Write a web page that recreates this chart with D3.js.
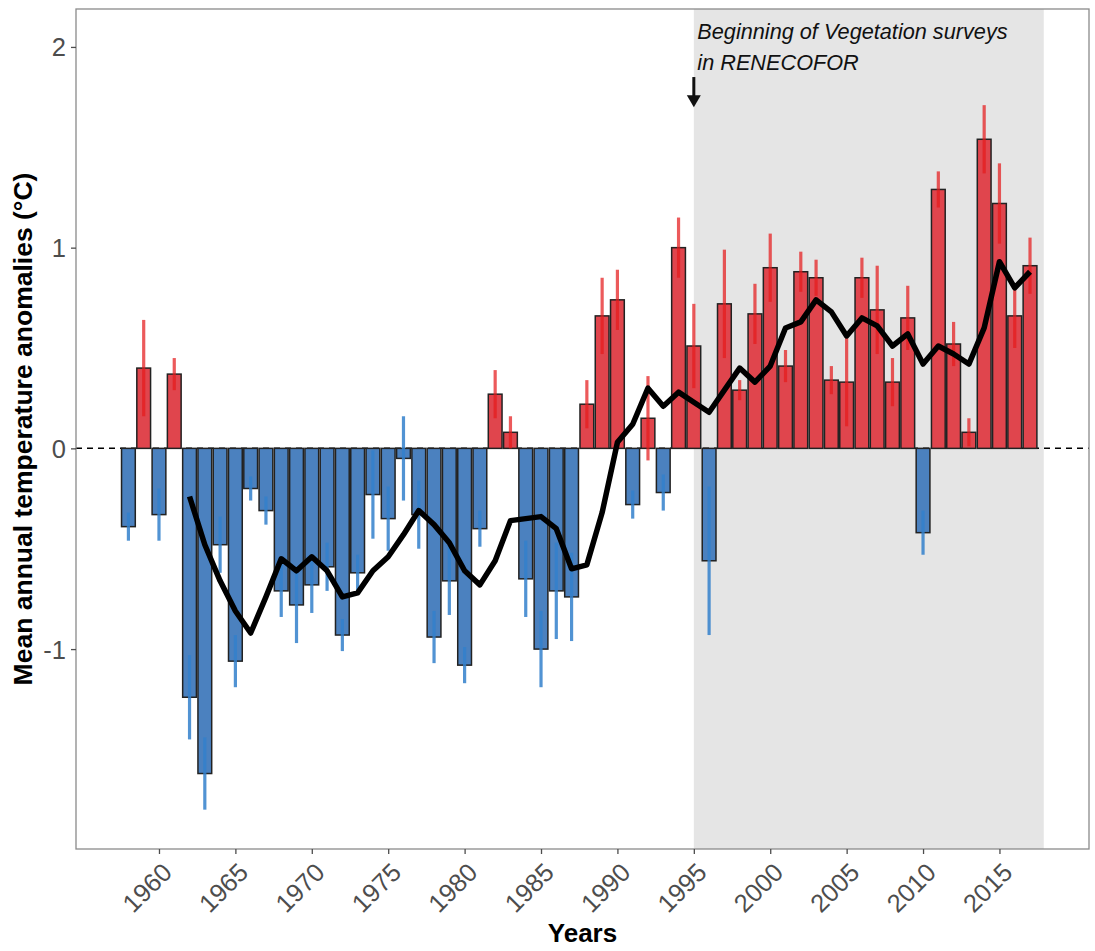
<!DOCTYPE html>
<html>
<head>
<meta charset="utf-8">
<script src="https://cdn.jsdelivr.net/npm/d3@7"></script>
<style>
  html, body { margin: 0; padding: 0; background: #ffffff; }
  svg { display: block; font-family: "Liberation Sans", Arial, Helvetica, sans-serif; }
</style>
</head>
<body>
<svg id="chart" width="1095" height="951"></svg>
<script>
// Annual mean temperature anomalies (°C), 1958–2017
const years = d3.range(1958, 2018);
const anomaly = [
  -0.39, 0.40, -0.33, 0.37, -1.24, -1.62, -0.48, -1.06, -0.20, -0.31,
  -0.71, -0.78, -0.68, -0.59, -0.93, -0.62, -0.23, -0.35, -0.05, -0.33,
  -0.94, -0.66, -1.08, -0.40, 0.27, 0.08, -0.65, -1.00, -0.71, -0.74,
  0.22, 0.66, 0.74, -0.28, 0.15, -0.22, 1.00, 0.51, -0.56, 0.72,
  0.29, 0.67, 0.90, 0.41, 0.88, 0.85, 0.34, 0.33, 0.85, 0.69,
  0.33, 0.65, -0.42, 1.29, 0.52, 0.08, 1.54, 1.22, 0.66, 0.91
];
// spread around each annual mean
const anomalySd = [
  0.07, 0.24, 0.13, 0.08, 0.21, 0.18, 0.14, 0.13, 0.06, 0.07,
  0.13, 0.19, 0.14, 0.12, 0.08, 0.09, 0.22, 0.16, 0.21, 0.17,
  0.13, 0.17, 0.09, 0.09, 0.12, 0.08, 0.19, 0.19, 0.24, 0.22,
  0.12, 0.19, 0.15, 0.07, 0.21, 0.09, 0.15, 0.21, 0.37, 0.27,
  0.05, 0.15, 0.17, 0.08, 0.10, 0.09, 0.07, 0.22, 0.10, 0.22,
  0.12, 0.16, 0.11, 0.09, 0.11, 0.07, 0.17, 0.20, 0.16, 0.14
];
// 5-year running mean of the anomalies
const smoothYears = d3.range(1962, 2018);
const smoothAnomaly = [
  -0.24, -0.48, -0.66, -0.81, -0.92, -0.74, -0.55, -0.61, -0.54, -0.61,
  -0.74, -0.72, -0.61, -0.54, -0.43, -0.31, -0.38, -0.47, -0.61, -0.68,
  -0.56, -0.36, -0.35, -0.34, -0.40, -0.60, -0.58, -0.32, 0.03, 0.12,
  0.30, 0.21, 0.28, 0.23, 0.18, 0.29, 0.40, 0.33, 0.41, 0.60,
  0.63, 0.74, 0.68, 0.56, 0.65, 0.61, 0.51, 0.57, 0.42, 0.51,
  0.47, 0.42, 0.60, 0.93, 0.80, 0.88
];
const xTicks = d3.range(1960, 2016, 5);
const yTicks = [-1, 0, 1, 2];
const surveyPeriod = [1995, 2017.9];
const noteLines = ["Beginning of Vegetation surveys", "in RENECOFOR"];

const rows = years.map((yr, i) => ({ year: yr, value: anomaly[i], sd: anomalySd[i] }));
const smooth = smoothYears.map((yr, i) => ({ year: yr, value: smoothAnomaly[i] }));

const panel = { left: 76, right: 1089, top: 9, bottom: 849 };
const x = d3.scaleLinear().domain([1954.57, 2020.86]).range([panel.left, panel.right]);
const y = d3.scaleLinear().domain([-1.996, 2.189]).range([panel.bottom, panel.top]);

const colours = {
  warmFill: "#E0454D", coldFill: "#4B81BF",
  warmBar: "#E41A1C", coldBar: "#3380CB"
};

const svg = d3.select("#chart");

// shaded survey period
svg.append("rect")
  .attr("x", x(surveyPeriod[0]))
  .attr("y", panel.top)
  .attr("width", x(surveyPeriod[1]) - x(surveyPeriod[0]))
  .attr("height", panel.bottom - panel.top)
  .attr("fill", "#E5E5E5");

// zero reference
svg.append("line")
  .attr("x1", panel.left).attr("x2", panel.right)
  .attr("y1", y(0)).attr("y2", y(0))
  .attr("stroke", "#000").attr("stroke-width", 1.5)
  .attr("stroke-dasharray", "6,5");

// bars
const barW = (x(1) - x(0)) * 0.9;
svg.append("g").selectAll("rect").data(rows).join("rect")
  .attr("x", d => x(d.year) - barW / 2)
  .attr("y", d => y(Math.max(0, d.value)))
  .attr("width", barW)
  .attr("height", d => Math.abs(y(d.value) - y(0)))
  .attr("fill", d => d.value >= 0 ? colours.warmFill : colours.coldFill)
  .attr("stroke", "#222")
  .attr("stroke-width", 1.5);

// spread bars
svg.append("g").selectAll("line").data(rows).join("line")
  .attr("x1", d => x(d.year)).attr("x2", d => x(d.year))
  .attr("y1", d => y(d.value + d.sd)).attr("y2", d => y(d.value - d.sd))
  .attr("stroke", d => d.value >= 0 ? colours.warmBar : colours.coldBar)
  .attr("stroke-opacity", d => d.value >= 0 ? 0.72 : 0.85)
  .attr("stroke-width", 3.2);

// running mean
svg.append("path")
  .datum(smooth)
  .attr("fill", "none")
  .attr("stroke", "#000")
  .attr("stroke-width", 5.5)
  .attr("stroke-linejoin", "round")
  .attr("d", d3.line().x(d => x(d.year)).y(d => y(d.value)));

// panel border
svg.append("rect")
  .attr("x", panel.left).attr("y", panel.top)
  .attr("width", panel.right - panel.left).attr("height", panel.bottom - panel.top)
  .attr("fill", "none").attr("stroke", "#8a8a8a").attr("stroke-width", 1.3);

// x axis
const xAxis = svg.append("g")
  .attr("transform", `translate(0,${panel.bottom})`)
  .call(d3.axisBottom(x).tickValues(xTicks).tickSize(5).tickFormat(d3.format("d")));
xAxis.select(".domain").remove();
xAxis.selectAll(".tick line").attr("stroke", "#4D4D4D").attr("stroke-width", 1.3);
xAxis.selectAll(".tick text")
  .attr("fill", "#4D4D4D")
  .attr("font-size", 25.5)
  .attr("text-anchor", "end")
  .attr("x", 0).attr("y", 0).attr("dy", "0.72em")
  .attr("transform", "translate(1,12) rotate(-45)");

// y axis
const yAxis = svg.append("g")
  .attr("transform", `translate(${panel.left},0)`)
  .call(d3.axisLeft(y).tickValues(yTicks).tickSize(5).tickPadding(5)
    .tickFormat(d => d < 0 ? "-" + Math.abs(d) : String(d)));
yAxis.select(".domain").remove();
yAxis.selectAll(".tick line").attr("stroke", "#4D4D4D").attr("stroke-width", 1.3);
yAxis.selectAll(".tick text")
  .attr("fill", "#4D4D4D")
  .attr("font-size", 25.5)
  .attr("dy", "0.35em");

// axis titles
svg.append("text")
  .attr("x", (panel.left + panel.right) / 2).attr("y", 942)
  .attr("text-anchor", "middle")
  .attr("font-size", 26).attr("font-weight", "bold")
  .text("Years");
svg.append("text")
  .attr("transform", `translate(31.5,${(panel.top + panel.bottom) / 2}) rotate(-90)`)
  .attr("text-anchor", "middle")
  .attr("font-size", 26.5).attr("font-weight", "bold")
  .text("Mean annual temperature anomalies (°C)");

// survey note and arrow
const note = svg.append("text")
  .attr("font-size", 21.7).attr("font-style", "italic").attr("fill", "#111");
noteLines.forEach((t, i) => {
  note.append("tspan").attr("x", x(surveyPeriod[0]) + 3.5).attr("y", 39 + i * 31).text(t);
});
const ax = x(surveyPeriod[0]);
const arrowTop = y(1.85), arrowTip = y(1.70);
svg.append("line")
  .attr("x1", ax).attr("x2", ax)
  .attr("y1", arrowTop).attr("y2", arrowTip - 9)
  .attr("stroke", "#111").attr("stroke-width", 3);
svg.append("path")
  .attr("d", `M${ax - 7},${arrowTip - 12} L${ax + 7},${arrowTip - 12} L${ax},${arrowTip} Z`)
  .attr("fill", "#111");
</script>
</body>
</html>
